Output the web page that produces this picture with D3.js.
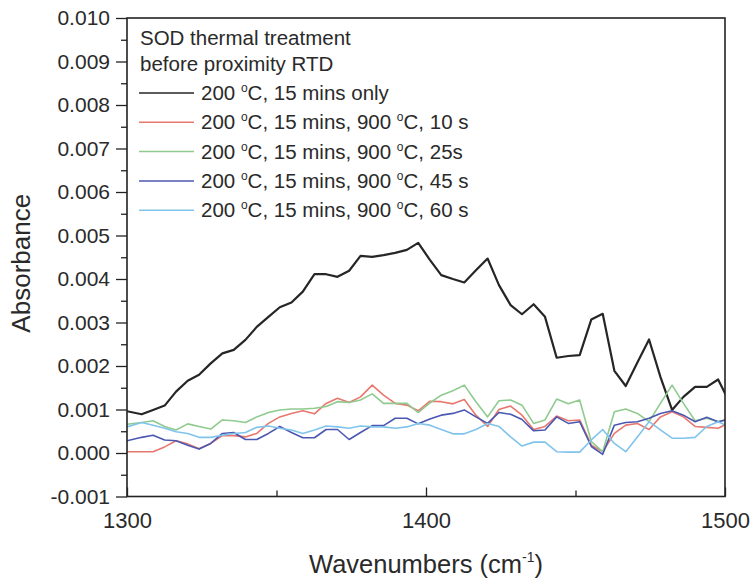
<!DOCTYPE html>
<html>
<head>
<meta charset="utf-8">
<script src="https://cdn.jsdelivr.net/npm/d3@7"></script>
<style>
  body { margin: 0; background: #fff; }
  svg text { font-family: Arial, "Liberation Sans", sans-serif; fill: #2a2a2a; }
</style>
</head>
<body>
<div id="chart"></div>
<script>
// wavenumbers (cm-1) of the sampled points
var wavenumbers = [1300.0, 1304.9, 1308.7, 1312.6, 1316.4, 1320.3, 1324.1, 1328.0, 1331.9, 1335.7,
  1339.6, 1343.4, 1347.3, 1351.1, 1355.0, 1358.8, 1362.7, 1366.6, 1370.4, 1374.3,
  1378.1, 1382.0, 1385.8, 1389.7, 1393.6, 1397.4, 1401.3, 1405.1, 1409.0, 1412.8,
  1416.7, 1420.6, 1424.4, 1428.3, 1432.1, 1436.0, 1439.8, 1443.7, 1447.6, 1451.4,
  1455.3, 1459.1, 1463.0, 1466.8, 1470.7, 1474.6, 1478.4, 1482.3, 1486.1, 1490.0,
  1493.9, 1497.7, 1501.6];

var only200 = [0.00096, 0.00089, 0.00099, 0.00109, 0.00141, 0.00166, 0.00180, 0.00206, 0.00229, 0.00237,
  0.00260, 0.00290, 0.00313, 0.00335, 0.00346, 0.00371, 0.00411, 0.00411, 0.00405, 0.00419,
  0.00453, 0.00451, 0.00455, 0.00460, 0.00467, 0.00483, 0.00444, 0.00409, 0.00400, 0.00392,
  0.00420, 0.00447, 0.00386, 0.00340, 0.00319, 0.00342, 0.00313, 0.00219, 0.00223, 0.00225,
  0.00307, 0.00320, 0.00189, 0.00154, 0.00208, 0.00261, 0.00175, 0.00099, 0.00129, 0.00152,
  0.00152, 0.00169, 0.00115];

var rtd10s = [0.00003, 0.00003, 0.00003, 0.00014, 0.00028, 0.00021, 0.00010, 0.00022, 0.00040, 0.00040,
  0.00037, 0.00045, 0.00068, 0.00083, 0.00091, 0.00097, 0.00090, 0.00114, 0.00126, 0.00116,
  0.00129, 0.00156, 0.00133, 0.00114, 0.00110, 0.00097, 0.00119, 0.00118, 0.00113, 0.00123,
  0.00087, 0.00061, 0.00100, 0.00108, 0.00087, 0.00054, 0.00061, 0.00085, 0.00074, 0.00076,
  0.00018, 0.00003, 0.00045, 0.00064, 0.00068, 0.00054, 0.00083, 0.00095, 0.00083, 0.00061,
  0.00059, 0.00057, 0.00070];

var rtd25s = [0.00066, 0.00070, 0.00074, 0.00061, 0.00053, 0.00067, 0.00061, 0.00055, 0.00076, 0.00074,
  0.00070, 0.00083, 0.00093, 0.00099, 0.00101, 0.00101, 0.00103, 0.00107, 0.00118, 0.00116,
  0.00122, 0.00136, 0.00114, 0.00114, 0.00114, 0.00093, 0.00115, 0.00133, 0.00143, 0.00156,
  0.00118, 0.00083, 0.00120, 0.00122, 0.00110, 0.00068, 0.00076, 0.00124, 0.00113, 0.00122,
  0.00026, 0.00003, 0.00095, 0.00101, 0.00091, 0.00072, 0.00114, 0.00156, 0.00114, 0.00074,
  0.00080, 0.00072, 0.00078];

var rtd45s = [0.00028, 0.00036, 0.00041, 0.00030, 0.00028, 0.00018, 0.00009, 0.00022, 0.00045, 0.00047,
  0.00031, 0.00031, 0.00045, 0.00061, 0.00047, 0.00035, 0.00035, 0.00054, 0.00054, 0.00031,
  0.00047, 0.00063, 0.00063, 0.00080, 0.00080, 0.00067, 0.00078, 0.00087, 0.00091, 0.00099,
  0.00083, 0.00068, 0.00093, 0.00089, 0.00077, 0.00051, 0.00053, 0.00083, 0.00068, 0.00072,
  0.00015, -0.00003, 0.00064, 0.00070, 0.00072, 0.00080, 0.00091, 0.00097, 0.00087, 0.00072,
  0.00082, 0.00072, 0.00078];

var rtd60s = [0.00060, 0.00070, 0.00064, 0.00057, 0.00049, 0.00045, 0.00036, 0.00036, 0.00041, 0.00045,
  0.00047, 0.00059, 0.00062, 0.00057, 0.00053, 0.00045, 0.00053, 0.00062, 0.00060, 0.00057,
  0.00062, 0.00060, 0.00060, 0.00057, 0.00060, 0.00068, 0.00064, 0.00054, 0.00044, 0.00044,
  0.00054, 0.00068, 0.00061, 0.00037, 0.00016, 0.00025, 0.00025, 0.00003, 0.00002, 0.00002,
  0.00030, 0.00054, 0.00022, 0.00003, 0.00037, 0.00072, 0.00053, 0.00034, 0.00034, 0.00036,
  0.00061, 0.00072, 0.00060];

var seriesNames = ['200 \u00b0C, 15 mins only', '200 \u00b0C, 15 mins, 900 \u00b0C, 10 s',
  '200 \u00b0C, 15 mins, 900 \u00b0C, 25s', '200 \u00b0C, 15 mins, 900 \u00b0C, 45 s',
  '200 \u00b0C, 15 mins, 900 \u00b0C, 60 s'];
var seriesValues = [only200, rtd10s, rtd25s, rtd45s, rtd60s];
var seriesColors = ['#262626', '#e8786e', '#8fca8f', '#4b58b2', '#80c4ec'];
var seriesWidths = [2.2, 1.6, 1.6, 1.6, 1.6];

var xTicks = [1300, 1400, 1500];
var xMinor = [1350, 1450];
var yTicks = [-0.001, 0, 0.001, 0.002, 0.003, 0.004, 0.005, 0.006, 0.007, 0.008, 0.009, 0.010];

var width = 752, height = 582;
var margin = {t:18, r:27, b:85.5, l:127};

var svg = d3.select('#chart')
  .append('svg')
  .attr('width', width)
  .attr('height', height);

var x = d3.scaleLinear().domain([1300, 1500]).range([margin.l, width - margin.r]);
var y = d3.scaleLinear().domain([-0.001, 0.010]).range([height - margin.b, margin.t]);

svg.append('clipPath')
  .attr('id', 'plot-clip')
  .append('rect')
  .attr('x', x(1300))
  .attr('y', y(0.010))
  .attr('width', x(1500) - x(1300))
  .attr('height', y(-0.001) - y(0.010));

// curves
var line = d3.line()
  .x(function(d, i){ return x(wavenumbers[i]); })
  .y(function(d){ return y(d); });

var curves = svg.append('g').attr('clip-path', 'url(#plot-clip)');
seriesValues.forEach(function(vals, k){
  curves.append('path')
    .attr('d', line(vals))
    .style('fill', 'none')
    .style('stroke', seriesColors[k])
    .style('stroke-width', seriesWidths[k])
    .style('stroke-linejoin', 'round');
});

// frame
svg.append('rect')
  .attr('x', x(1300))
  .attr('y', y(0.010))
  .attr('width', x(1500) - x(1300))
  .attr('height', y(-0.001) - y(0.010))
  .style('fill', 'none')
  .style('stroke', '#222')
  .style('stroke-width', 1.6);

// y axis: major ticks with labels, minor ticks between
var fmt = d3.format('.3f');
var yAxis = d3.axisLeft(y)
  .tickValues(yTicks)
  .tickFormat(function(d){ return fmt(d).replace('\u2212', '-'); })
  .tickSize(11)
  .tickPadding(6);
var gy = svg.append('g')
  .attr('transform', 'translate(' + x(1300) + ',0)')
  .call(yAxis);
gy.select('.domain').remove();
gy.selectAll('line').style('stroke', '#222').style('stroke-width', 1.3);
gy.selectAll('text').style('font-size', '21px').style('fill', '#2a2a2a');

var yMinor = yTicks.slice(0, -1).map(function(d){ return d + 0.0005; });
var gyMinor = svg.append('g')
  .attr('transform', 'translate(' + x(1300) + ',0)')
  .call(d3.axisLeft(y).tickValues(yMinor).tickSize(6).tickFormat(''));
gyMinor.select('.domain').remove();
gyMinor.selectAll('line').style('stroke', '#222').style('stroke-width', 1.3);

// x axis: ticks point inward
var xAxis = d3.axisBottom(x)
  .tickValues(xTicks)
  .tickFormat(d3.format('d'))
  .tickSizeInner(-9)
  .tickSizeOuter(0)
  .tickPadding(16);
var gx = svg.append('g')
  .attr('transform', 'translate(0,' + y(-0.001) + ')')
  .call(xAxis);
gx.select('.domain').remove();
gx.selectAll('line').style('stroke', '#222').style('stroke-width', 1.3);
gx.selectAll('text').style('font-size', '22px').style('fill', '#2a2a2a');

var gxMinor = svg.append('g')
  .attr('transform', 'translate(0,' + y(-0.001) + ')')
  .call(d3.axisBottom(x).tickValues(xMinor).tickSize(-6).tickFormat(''));
gxMinor.select('.domain').remove();
gxMinor.selectAll('line').style('stroke', '#222').style('stroke-width', 1.3);

// axis titles
svg.append('text')
  .attr('transform', 'translate(30,' + ((y(0.010) + y(-0.001)) / 2 + 6) + ') rotate(-90)')
  .attr('text-anchor', 'middle')
  .style('font-size', '26px')
  .text('Absorbance');

var xt = svg.append('text')
  .attr('x', (x(1300) + x(1500)) / 2)
  .attr('y', 573)
  .attr('text-anchor', 'middle')
  .style('font-size', '25.5px');
xt.append('tspan').text('Wavenumbers (cm');
xt.append('tspan').attr('dy', -11).style('font-size', '14px').text('-1');
xt.append('tspan').attr('dy', 11).text(')');

// legend
var legend = svg.append('g').attr('transform', 'translate(139,0)');
legend.append('text').attr('x', 1).attr('y', 45).style('font-size', '20.5px').text('SOD thermal treatment');
legend.append('text').attr('x', 1).attr('y', 70.5).style('font-size', '20.5px').text('before proximity RTD');

seriesNames.forEach(function(name, k){
  var ly = 93 + k * 29.3;
  legend.append('line')
    .attr('x1', 0).attr('x2', 55)
    .attr('y1', ly).attr('y2', ly)
    .style('stroke', seriesColors[k])
    .style('stroke-width', 1.5);
  var t = legend.append('text')
    .attr('x', 62)
    .attr('y', ly + 7)
    .style('font-size', '20.5px');
  // degree sign drawn as a raised small "o", as in the original
  var parts = name.split('\u00b0');
  parts.forEach(function(p, j){
    if (j > 0) {
      t.append('tspan').attr('dy', -8).style('font-size', '12px').text('o');
      t.append('tspan').attr('dy', 8).text(p);
    } else {
      t.append('tspan').text(p);
    }
  });
});
</script>
</body>
</html>
